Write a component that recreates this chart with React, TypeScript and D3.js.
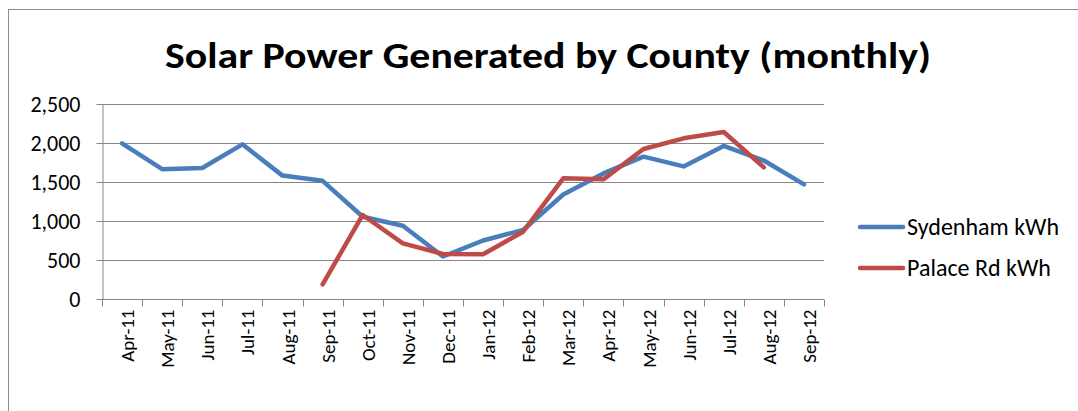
import React, { useEffect, useRef } from 'react';
import * as d3 from 'd3';

// Chart data
const months = [
  'Apr-11', 'May-11', 'Jun-11', 'Jul-11', 'Aug-11', 'Sep-11', 'Oct-11', 'Nov-11', 'Dec-11',
  'Jan-12', 'Feb-12', 'Mar-12', 'Apr-12', 'May-12', 'Jun-12', 'Jul-12', 'Aug-12', 'Sep-12'
];
const sydenham: (number | null)[] = [
  1995, 1665, 1680, 1983, 1582, 1515, 1055, 940, 545,
  750, 885, 1340, 1610, 1825, 1700, 1962, 1775, 1470
];
const palaceRd: (number | null)[] = [
  null, null, null, null, null, 188, 1077, 714, 577,
  573, 863, 1547, 1534, 1923, 2060, 2141, 1688, null
];
const yTicks = [0, 500, 1000, 1500, 2000, 2500];
const seriesNames = ['Sydenham kWh', 'Palace Rd kWh'];
const seriesColors = ['#4A7EBB', '#BE4B48'];

const W = 1078;
const H = 411;
const FONT = 'Carlito, "Open Sans", sans-serif';

const App: React.FC = () => {
  const svgRef = useRef<SVGSVGElement>(null);

  useEffect(() => {
    if (!svgRef.current) return;
    const svg = d3.select(svgRef.current);
    svg.selectAll('*').remove();

    const left = 102, right = 824, top = 104, bottom = 299;

    const x = d3.scaleBand<string>().domain(months).range([left, right]);
    const y = d3.scaleLinear().domain([0, 2500]).range([bottom, top]);

    // chart border (only top and left visible in the crop)
    svg.append('rect')
      .attr('x', 8.5).attr('y', 9.5)
      .attr('width', W + 20).attr('height', H + 20)
      .attr('fill', 'white')
      .attr('stroke', '#8c8c8c')
      .attr('stroke-width', 1);

    // title
    svg.append('text')
      .attr('x', 548).attr('y', 68)
      .attr('text-anchor', 'middle')
      .attr('font-family', FONT)
      .attr('font-weight', 'bold')
      .attr('font-size', 37)
      .attr('textLength', 766)
      .attr('lengthAdjust', 'spacingAndGlyphs')
      .attr('fill', '#000')
      .text('Solar Power Generated by County (monthly)');

    // horizontal gridlines
    svg.append('g')
      .selectAll('line')
      .data(yTicks.filter(t => t > 0))
      .join('line')
      .attr('x1', left).attr('x2', right)
      .attr('y1', d => Math.round(y(d)) + 0.5)
      .attr('y2', d => Math.round(y(d)) + 0.5)
      .attr('stroke', '#868686')
      .attr('stroke-width', 1);

    // y axis
    const yAxis = svg.append('g')
      .attr('transform', `translate(${left + 0.5},0)`)
      .call(d3.axisLeft(y).tickValues(yTicks).tickSize(6).tickSizeOuter(0).tickPadding(16)
        .tickFormat(d => d3.format(',')(d as number)));
    yAxis.select('.domain').attr('stroke', '#868686');
    yAxis.selectAll('.tick line').attr('stroke', '#868686');
    yAxis.selectAll('.tick text')
      .attr('font-family', FONT)
      .attr('font-size', 22)
      .attr('fill', '#000');

    // x axis: ticks at category boundaries
    const xAxis = svg.append('g').attr('transform', `translate(0,${bottom + 0.5})`);
    xAxis.append('line')
      .attr('x1', left).attr('x2', right)
      .attr('stroke', '#868686');
    const bounds = months.map(m => x(m) as number).concat([right]);
    xAxis.selectAll('line.tk')
      .data(bounds)
      .join('line')
      .attr('class', 'tk')
      .attr('x1', d => Math.round(d) + 0.5).attr('x2', d => Math.round(d) + 0.5)
      .attr('y1', 0).attr('y2', 7)
      .attr('stroke', '#868686');
    xAxis.selectAll('text')
      .data(months)
      .join('text')
      .attr('transform', d => `translate(${(x(d) as number) + x.bandwidth() / 2 + 12},10) rotate(-90)`)
      .attr('text-anchor', 'end')
      .attr('font-family', FONT)
      .attr('font-size', 19)
      .attr('fill', '#000')
      .text(d => d);

    // lines
    const line = d3.line<number | null>()
      .defined(d => d !== null)
      .x((_, i) => (x(months[i]) as number) + x.bandwidth() / 2)
      .y(d => y(d as number));

    [sydenham, palaceRd].forEach((s, i) => {
      svg.append('path')
        .datum(s)
        .attr('d', line)
        .attr('fill', 'none')
        .attr('stroke', seriesColors[i])
        .attr('stroke-width', 4.5)
        .attr('stroke-linejoin', 'round')
        .attr('stroke-linecap', 'round');
    });

    // legend
    const legend = svg.append('g');
    seriesNames.forEach((name, i) => {
      const ly = 227 + i * 41;
      legend.append('line')
        .attr('x1', 860).attr('x2', 903)
        .attr('y1', ly).attr('y2', ly)
        .attr('stroke', seriesColors[i])
        .attr('stroke-width', 4.5)
        .attr('stroke-linecap', 'round');
      legend.append('text')
        .attr('x', 907).attr('y', ly + 8)
        .attr('font-family', FONT)
        .attr('font-size', 24)
        .attr('fill', '#000')
        .text(name);
    });
  }, []);

  return (
    <svg
      ref={svgRef}
      width={W}
      height={H}
      style={{ position: 'absolute', left: 0, top: 0, background: 'white' }}
    />
  );
};

export default App;
